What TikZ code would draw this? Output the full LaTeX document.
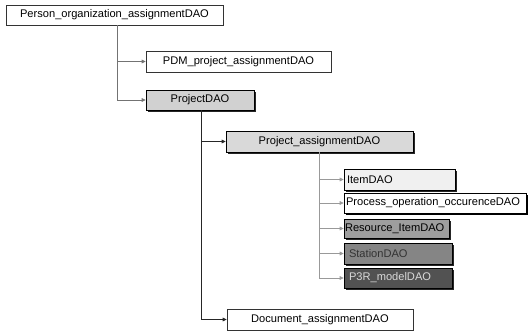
\documentclass[tikz,border=0pt]{standalone}
\usepackage{fontspec}
\setmainfont{Liberation Sans}
\usetikzlibrary{arrows.meta,shadows}

\tikzset{
  box/.style={draw=black!80, line width=0.6pt, inner sep=0pt, font=\fontsize{11.1}{13}\selectfont},
  plainbox/.style={box, fill=white, drop shadow={shadow xshift=0.8pt, shadow yshift=-0.8pt, fill=black!60, opacity=1}},
  heavybox/.style={box, draw=black, fill=white, drop shadow={shadow xshift=1.6pt, shadow yshift=-1.6pt, fill=black, opacity=1}},
  shadebox/.style={box, draw=black, drop shadow={shadow xshift=1.5pt, shadow yshift=-1.5pt, fill=black!85, opacity=1}},
  lefttext/.style={align=left, text width=#1},
  conn/.style={draw=black!55, line width=0.7pt, -{Triangle[length=4pt,width=3.6pt]}},
  darkconn/.style={conn, draw=black!85},
  lightconn/.style={conn, draw=black!40},
}

\begin{document}
\begin{tikzpicture}[x=1pt, y=-1pt]
  \useasboundingbox (0,0) rectangle (529,335);

  % top-level assignment and its children
  \node[plainbox, minimum width=217pt, minimum height=20pt] (per) at (114.5,15) {Person\_organization\_assignmentDAO};
  \node[plainbox, minimum width=185pt, minimum height=21pt] (pdm) at (238.5,61.5) {PDM\_project\_assignmentDAO};
  \node[shadebox, fill=black!18, minimum width=108pt, minimum height=20pt] (proj) at (200,100) {ProjectDAO};

  % project level
  \node[shadebox, fill=black!15, minimum width=187pt, minimum height=21pt] (pa) at (319.5,141.5) {Project\_assignmentDAO};
  \node[plainbox, minimum width=186pt, minimum height=21pt] (doc) at (320,319.5) {Document\_assignmentDAO};

  % project assignment children
  \node[shadebox, fill=black!6, minimum width=111pt, minimum height=21pt, lefttext=105pt] (item) at (399.5,179.5) {ItemDAO};
  \node[heavybox, minimum width=182pt, minimum height=20pt, lefttext=178pt] (proc) at (435,203) {Process\_operation\_occurenceDAO};
  \node[shadebox, fill=black!38, minimum width=105pt, minimum height=19pt, lefttext=103pt] (res) at (396.5,228.5) {Resource\_ItemDAO};
  \node[shadebox, fill=black!48, text=black!80, minimum width=108pt, minimum height=21pt, lefttext=98pt] (sta) at (398,253.5) {StationDAO};
  \node[shadebox, fill=black!68, text=black!15, minimum width=108pt, minimum height=20pt, lefttext=98pt] (p3r) at (398,278) {P3R\_modelDAO};

  % connectors
  \draw[conn] ([xshift=3pt]per.south) |- (pdm.west);
  \draw[conn] ([xshift=3pt]per.south) |- (proj.west);

  \draw[darkconn] ([xshift=1pt]proj.south) |- (pa.west);
  \draw[darkconn] ([xshift=1pt]proj.south) |- (doc.west);

  \draw[lightconn] (pa.south) |- (item.west);
  \draw[lightconn] (pa.south) |- (proc.west);
  \draw[lightconn] (pa.south) |- (res.west);
  \draw[lightconn] (pa.south) |- (sta.west);
  \draw[lightconn] (pa.south) |- (p3r.west);
\end{tikzpicture}
\end{document}
